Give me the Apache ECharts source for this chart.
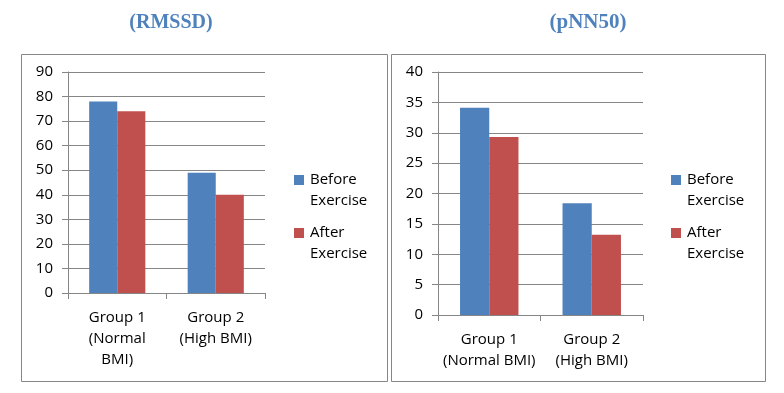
<!DOCTYPE html>
<html>
<head>
<meta charset="utf-8">
<script src="https://cdn.jsdelivr.net/npm/echarts@6/dist/echarts.min.js"></script>
<style>
html,body{margin:0;padding:0;background:#fff;}
#c{width:784px;height:393px;}
</style>
</head>
<body>
<div id="c"></div>
<script>
const titles = ['(RMSSD)', '(pNN50)'];
const seriesNames = ['Before Exercise', 'After Exercise'];
const categoriesLeft = ['Group 1\n(Normal\nBMI)', 'Group 2\n(High BMI)'];
const categoriesRight = ['Group 1\n(Normal BMI)', 'Group 2\n(High BMI)'];
const rmssdBefore = [78, 49];
const rmssdAfter = [74, 40];
const pnn50Before = [34.1, 18.4];
const pnn50After = [29.3, 13.2];
const yMaxLeft = 90, yStepLeft = 10;
const yMaxRight = 40, yStepRight = 5;

const BLUE = '#4f81bd', RED = '#c0504d', GRAY = '#868686';
const FONT = 'Open Sans';
const legendIcon = 'path://M0,0h10M0,5.5h10v10h-10zM0,42h10';

function xAxis(gridIndex, cats) {
  return {
    type: 'category', gridIndex, data: cats,
    axisLine: {show: true, lineStyle: {color: GRAY, width: 1}},
    axisTick: {show: true, length: 6, lineStyle: {color: GRAY}},
    axisLabel: {color: '#000', fontFamily: FONT, fontSize: 15, lineHeight: 21, margin: 14, interval: 0}
  };
}
function yAxis(gridIndex, max, step) {
  return {
    type: 'value', gridIndex, min: 0, max, interval: step,
    axisLine: {show: true, lineStyle: {color: GRAY, width: 1}},
    axisTick: {show: true, length: 6, lineStyle: {color: GRAY}},
    axisLabel: {color: '#000', fontFamily: FONT, fontSize: 15, margin: 15},
    splitLine: {show: true, lineStyle: {color: GRAY, width: 1}}
  };
}
function bar(name, data, idx, color) {
  return {
    type: 'bar', name, data, xAxisIndex: idx, yAxisIndex: idx,
    barGap: '0%', barCategoryGap: '43%',
    itemStyle: {color}, animation: false
  };
}
function legend(left) {
  return {
    orient: 'vertical', left, top: 169.5, itemGap: 11, padding: 0,
    itemWidth: 10, itemHeight: 42, icon: legendIcon,
    data: seriesNames,
    formatter: n => n.replace(' ', '\n'),
    textStyle: {color: '#000', fontFamily: FONT, fontSize: 15, lineHeight: 21, padding: [0,0,0,1]},
    selectedMode: false
  };
}

const chart = echarts.init(document.getElementById('c'), null, {renderer: 'canvas'});
chart.setOption({
  animation: false,
  title: [
    {text: titles[0], left: 171, top: 23, textAlign: 'center', textVerticalAlign: 'middle', padding: 0,
     textStyle: {fontFamily: 'Liberation Serif', fontWeight: 'bold', fontSize: 20, color: BLUE}},
    {text: titles[1], left: 588, top: 23, textAlign: 'center', textVerticalAlign: 'middle', padding: 0,
     textStyle: {fontFamily: 'Liberation Serif', fontWeight: 'bold', fontSize: 21, color: BLUE}}
  ],
  graphic: [
    {type: 'rect', shape: {x: 21.5, y: 54.5, width: 366, height: 327}, style: {fill: 'none', stroke: GRAY, lineWidth: 1}, silent: true, z: -1},
    {type: 'rect', shape: {x: 391.5, y: 54.5, width: 374, height: 327}, style: {fill: 'none', stroke: GRAY, lineWidth: 1}, silent: true, z: -1}
  ],
  grid: [
    {left: 68, top: 72, width: 197, height: 221},
    {left: 438, top: 72, width: 205, height: 243}
  ],
  xAxis: [xAxis(0, categoriesLeft), xAxis(1, categoriesRight)],
  yAxis: [yAxis(0, yMaxLeft, yStepLeft), yAxis(1, yMaxRight, yStepRight)],
  legend: [
    legend(294),
    legend(671)
  ],
  series: [
    bar(seriesNames[0], rmssdBefore, 0, BLUE),
    bar(seriesNames[1], rmssdAfter, 0, RED),
    bar(seriesNames[0], pnn50Before, 1, BLUE),
    bar(seriesNames[1], pnn50After, 1, RED)
  ]
});
</script>
</body>
</html>
